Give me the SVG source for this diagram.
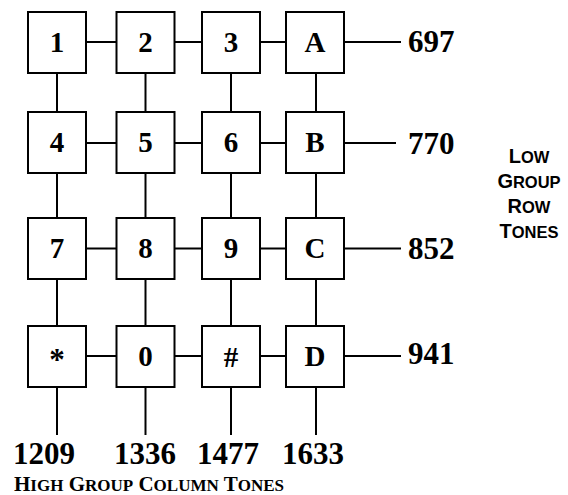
<svg xmlns="http://www.w3.org/2000/svg" width="568" height="495" viewBox="0 0 568 495">
<style>
.box{fill:#fff;stroke:#000;stroke-width:2}
.ln{stroke:#000;stroke-width:2;fill:none}
.lbl{font-family:"Liberation Serif","Times New Roman",serif;font-weight:bold;font-size:29px;text-anchor:middle;fill:#000}
.num{font-family:"Liberation Serif","Times New Roman",serif;font-weight:bold;font-size:31px;fill:#000}
.hg{font-family:"Liberation Serif","Times New Roman",serif;font-weight:bold;fill:#000}
.lg{font-family:"Liberation Sans",Arial,sans-serif;font-weight:bold;text-anchor:middle;fill:#000}
</style>
<rect width="568" height="495" fill="#fff"/>
<g id="connectors">
<line class="ln" x1="86" y1="42" x2="116" y2="42"/>
<line class="ln" x1="174" y1="42" x2="202" y2="42"/>
<line class="ln" x1="260" y1="42" x2="286" y2="42"/>
<line class="ln" x1="344" y1="42" x2="401" y2="42"/>
<line class="ln" x1="86" y1="143" x2="116" y2="143"/>
<line class="ln" x1="174" y1="143" x2="202" y2="143"/>
<line class="ln" x1="260" y1="143" x2="286" y2="143"/>
<line class="ln" x1="344" y1="143" x2="396" y2="143"/>
<line class="ln" x1="86" y1="248.5" x2="116" y2="248.5"/>
<line class="ln" x1="174" y1="248.5" x2="202" y2="248.5"/>
<line class="ln" x1="260" y1="248.5" x2="286" y2="248.5"/>
<line class="ln" x1="344" y1="248.5" x2="401" y2="248.5"/>
<line class="ln" x1="86" y1="356" x2="116" y2="356"/>
<line class="ln" x1="174" y1="356" x2="202" y2="356"/>
<line class="ln" x1="260" y1="356" x2="286" y2="356"/>
<line class="ln" x1="344" y1="356" x2="401" y2="356"/>
<line class="ln" x1="57" y1="73" x2="57" y2="112"/>
<line class="ln" x1="145.5" y1="73" x2="145.5" y2="112"/>
<line class="ln" x1="231" y1="73" x2="231" y2="112"/>
<line class="ln" x1="316" y1="73" x2="316" y2="112"/>
<line class="ln" x1="57" y1="173" x2="57" y2="218"/>
<line class="ln" x1="145.5" y1="173" x2="145.5" y2="218"/>
<line class="ln" x1="231" y1="173" x2="231" y2="218"/>
<line class="ln" x1="316" y1="173" x2="316" y2="218"/>
<line class="ln" x1="57" y1="279" x2="57" y2="326"/>
<line class="ln" x1="145.5" y1="279" x2="145.5" y2="326"/>
<line class="ln" x1="231" y1="279" x2="231" y2="326"/>
<line class="ln" x1="316" y1="279" x2="316" y2="326"/>
<line class="ln" x1="57" y1="387" x2="57" y2="435"/>
<line class="ln" x1="145.5" y1="387" x2="145.5" y2="435"/>
<line class="ln" x1="231" y1="387" x2="231" y2="435"/>
<line class="ln" x1="316" y1="387" x2="316" y2="435"/>
</g>
<g id="k1"><rect class="box" x="28" y="12" width="58" height="61"/><text class="lbl" x="57" y="52">1</text></g>
<g id="k2"><rect class="box" x="116.5" y="12" width="58" height="61"/><text class="lbl" x="145.5" y="52">2</text></g>
<g id="k3"><rect class="box" x="202" y="12" width="58" height="61"/><text class="lbl" x="231" y="52">3</text></g>
<g id="kA"><rect class="box" x="286" y="12" width="58" height="61"/><text class="lbl" x="315" y="52">A</text></g>
<g id="k4"><rect class="box" x="28" y="112" width="58" height="61"/><text class="lbl" x="57" y="152">4</text></g>
<g id="k5"><rect class="box" x="116.5" y="112" width="58" height="61"/><text class="lbl" x="145.5" y="152">5</text></g>
<g id="k6"><rect class="box" x="202" y="112" width="58" height="61"/><text class="lbl" x="231" y="152">6</text></g>
<g id="kB"><rect class="box" x="286" y="112" width="58" height="61"/><text class="lbl" x="315" y="152">B</text></g>
<g id="k7"><rect class="box" x="28" y="218" width="58" height="61"/><text class="lbl" x="57" y="258">7</text></g>
<g id="k8"><rect class="box" x="116.5" y="218" width="58" height="61"/><text class="lbl" x="145.5" y="258">8</text></g>
<g id="k9"><rect class="box" x="202" y="218" width="58" height="61"/><text class="lbl" x="231" y="258">9</text></g>
<g id="kC"><rect class="box" x="286" y="218" width="58" height="61"/><text class="lbl" x="315" y="258">C</text></g>
<g id="kstar"><rect class="box" x="28" y="326" width="58" height="61"/><text class="lbl" x="57" y="370" style="font-size:31px">*</text></g>
<g id="k0"><rect class="box" x="116.5" y="326" width="58" height="61"/><text class="lbl" x="145.5" y="366">0</text></g>
<g id="khash"><rect class="box" x="202" y="326" width="58" height="61"/><text class="lbl" x="231" y="367" style="font-size:29px">#</text></g>
<g id="kD"><rect class="box" x="286" y="326" width="58" height="61"/><text class="lbl" x="315" y="366">D</text></g>
<g id="row-tones">
<text class="num" x="408" y="52">697</text>
<text class="num" x="408" y="154">770</text>
<text class="num" x="408" y="259">852</text>
<text class="num" x="408" y="364">941</text>
</g>
<g id="col-tones">
<text class="num" x="13" y="464">1209</text>
<text class="num" x="114" y="464">1336</text>
<text class="num" x="197" y="464">1477</text>
<text class="num" x="282" y="464">1633</text>
</g>
<g id="high-label">
<text class="hg" x="14" y="491" style="font-size:21px">H<tspan style="font-size:17px">IGH</tspan> G<tspan style="font-size:17px">ROUP</tspan> C<tspan style="font-size:17px">OLUMN</tspan> T<tspan style="font-size:17px">ONES</tspan></text>
</g>
<g id="low-label">
<text class="lg" x="529" y="163" style="font-size:20px">L<tspan style="font-size:16.5px">OW</tspan></text>
<text class="lg" x="529" y="188" style="font-size:20px">G<tspan style="font-size:16.5px">ROUP</tspan></text>
<text class="lg" x="529" y="213" style="font-size:20px">R<tspan style="font-size:16.5px">OW</tspan></text>
<text class="lg" x="529" y="238" style="font-size:20px">T<tspan style="font-size:16.5px">ONES</tspan></text>
</g>
</svg>
